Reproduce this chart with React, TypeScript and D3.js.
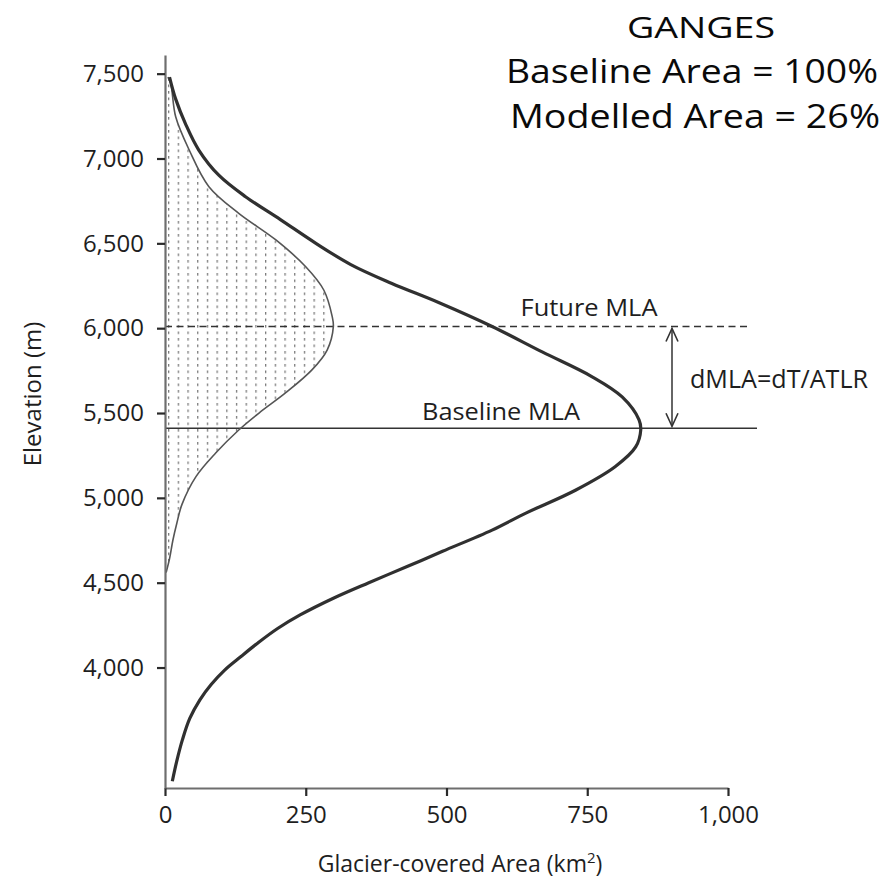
import React, { useEffect, useRef } from 'react';
import * as d3 from 'd3';

const width = 894;
const height = 881;
const font = "'Open Sans', sans-serif";

// baseline glacier hypsometry (thick curve), read top to bottom
const baseElev = [7480, 7350, 7200, 7050, 6900, 6775, 6640, 6500, 6375, 6265, 6150, 6010, 5860, 5715, 5595, 5460, 5400, 5300, 5185, 5045, 4910, 4810, 4685, 4595, 4500, 4410, 4310, 4230, 4145, 4065, 3985, 3900, 3810, 3700, 3575, 3450, 3330];
const baseArea = [8, 19, 37, 60, 96, 143, 205, 268, 330, 402, 487, 581, 670, 758, 812, 842, 845, 836, 800, 729, 641, 581, 493, 430, 362, 300, 240, 200, 165, 135, 106, 82, 62, 44, 31, 21, 13];

// modelled glacier hypsometry (thin curve, stippled)
const modelElev = [7480, 7445, 7246, 7050, 6834, 6677, 6520, 6362, 6225, 6068, 6009, 5871, 5754, 5618, 5500, 5400, 5264, 5125, 4960, 4850, 4750, 4640, 4560];
const modelArea = [5, 10, 19, 43, 78, 131, 197, 250, 282, 297, 299, 288, 261, 214, 167, 131, 90, 55, 30, 21, 14, 8, 2];

const xTicks = [0, 250, 500, 750, 1000];
const yTicks = [4000, 4500, 5000, 5500, 6000, 6500, 7000, 7500];

const baselineMLA = 5410;
const futureMLA = 6010;

const titleLines = ['GANGES', 'Baseline Area = 100%', 'Modelled Area = 26%'];

const x = d3.scaleLinear().domain([0, 1000]).range([165, 728]);
const y = d3.scaleLinear().domain([3290, 7610]).range([788, 55]);

const baseData = baseElev.map((e, i) => ({ e, a: baseArea[i] }));
const modelData = modelElev.map((e, i) => ({ e, a: modelArea[i] }));

const curveLine = d3
  .line<{ e: number; a: number }>()
  .x(d => x(d.a))
  .y(d => y(d.e))
  .curve(d3.curveCatmullRom.alpha(0.5));

const stipple = d3
  .area<{ e: number; a: number }>()
  .y(d => y(d.e))
  .x0(x(0))
  .x1(d => x(d.a))
  .curve(d3.curveCatmullRom.alpha(0.5));

export default function App() {
  const xAxisRef = useRef<SVGGElement>(null);
  const yAxisRef = useRef<SVGGElement>(null);

  useEffect(() => {
    const xa = d3.select(xAxisRef.current!);
    xa.call(
      d3
        .axisBottom(x)
        .tickValues(xTicks)
        .tickFormat(d3.format(','))
        .tickSize(8)
        .tickSizeOuter(0)
        .tickPadding(10)
    );
    const ya = d3.select(yAxisRef.current!);
    ya.call(
      d3
        .axisLeft(y)
        .tickValues(yTicks)
        .tickFormat(d3.format(','))
        .tickSize(8)
        .tickSizeOuter(0)
        .tickPadding(13)
    );
    [xa, ya].forEach(g => {
      g.select('.domain').attr('stroke', '#6e6e6e').attr('stroke-width', 2.2);
      g.selectAll('.tick line').attr('stroke', '#2a2a2a').attr('stroke-width', 2.2);
      g.selectAll('.tick text')
        .attr('fill', '#1e1e1e')
        .style('font-family', font)
        .style('font-size', '24px');
    });
  }, []);

  const arrowX = 672;
  const yTop = y(futureMLA) + 2;
  const yBot = y(baselineMLA) - 2;

  return (
    <svg
      width={width}
      height={height}
      style={{ position: 'absolute', left: 0, top: 0, background: '#fff' }}
    >
      <defs>
        <pattern id="dots" width={9.7} height={6.5} patternUnits="userSpaceOnUse" x={x(0) + 3}>
          <rect x={0} y={0} width={1.3} height={2.6} fill="#7a7a7a" />
        </pattern>
      </defs>

      <path d={stipple(modelData) ?? ''} fill="url(#dots)" />

      {/* MLA lines */}
      <line
        x1={x(0)}
        x2={750}
        y1={y(futureMLA)}
        y2={y(futureMLA)}
        stroke="#333"
        strokeWidth={1.5}
        strokeDasharray="7,4.5"
      />
      <line x1={x(0)} x2={757} y1={y(baselineMLA)} y2={y(baselineMLA)} stroke="#333" strokeWidth={1.6} />

      <path d={curveLine(modelData) ?? ''} fill="none" stroke="#555" strokeWidth={1.6} />
      <path d={curveLine(baseData) ?? ''} fill="none" stroke="#303030" strokeWidth={3.2} />

      {/* dMLA arrow */}
      <line x1={arrowX} x2={arrowX} y1={yTop} y2={yBot} stroke="#333" strokeWidth={1.5} />
      <path
        d={`M${arrowX - 6},${yTop + 13} L${arrowX},${yTop} L${arrowX + 6},${yTop + 13}`}
        fill="none"
        stroke="#333"
        strokeWidth={1.6}
      />
      <path
        d={`M${arrowX - 6},${yBot - 13} L${arrowX},${yBot} L${arrowX + 6},${yBot - 13}`}
        fill="none"
        stroke="#333"
        strokeWidth={1.6}
      />

      <g ref={xAxisRef} transform={`translate(0,${y(3290)})`} />
      <g ref={yAxisRef} transform={`translate(${x(0)},0)`} />

      <g fontFamily={font} fill="#1e1e1e">
        <text x={589} y={y(futureMLA) - 10} fontSize={23} textAnchor="middle" textLength={137} lengthAdjust="spacingAndGlyphs">
          Future MLA
        </text>
        <text x={501} y={y(baselineMLA) - 8} fontSize={23} textAnchor="middle" textLength={158} lengthAdjust="spacingAndGlyphs">
          Baseline MLA
        </text>
        <text x={690} y={388} fontSize={25} textLength={178} lengthAdjust="spacingAndGlyphs">
          dMLA=dT/ATLR
        </text>

        <text x={701} y={38} fontSize={30} textAnchor="middle" textLength={148} lengthAdjust="spacingAndGlyphs" fill="#0a0a0a">
          {titleLines[0]}
        </text>
        <text x={692} y={83} fontSize={32} textAnchor="middle" textLength={372} lengthAdjust="spacingAndGlyphs" fill="#0a0a0a">
          {titleLines[1]}
        </text>
        <text x={695} y={128} fontSize={32} textAnchor="middle" textLength={370} lengthAdjust="spacingAndGlyphs" fill="#0a0a0a">
          {titleLines[2]}
        </text>

        <text x={460} y={872} fontSize={23} textAnchor="middle">
          Glacier-covered Area (km<tspan fontSize={15} dy={-9}>2</tspan>
          <tspan dy={9}>)</tspan>
        </text>
        <text transform="translate(41,394) rotate(-90)" fontSize={24} textAnchor="middle">
          Elevation (m)
        </text>
      </g>
    </svg>
  );
}
